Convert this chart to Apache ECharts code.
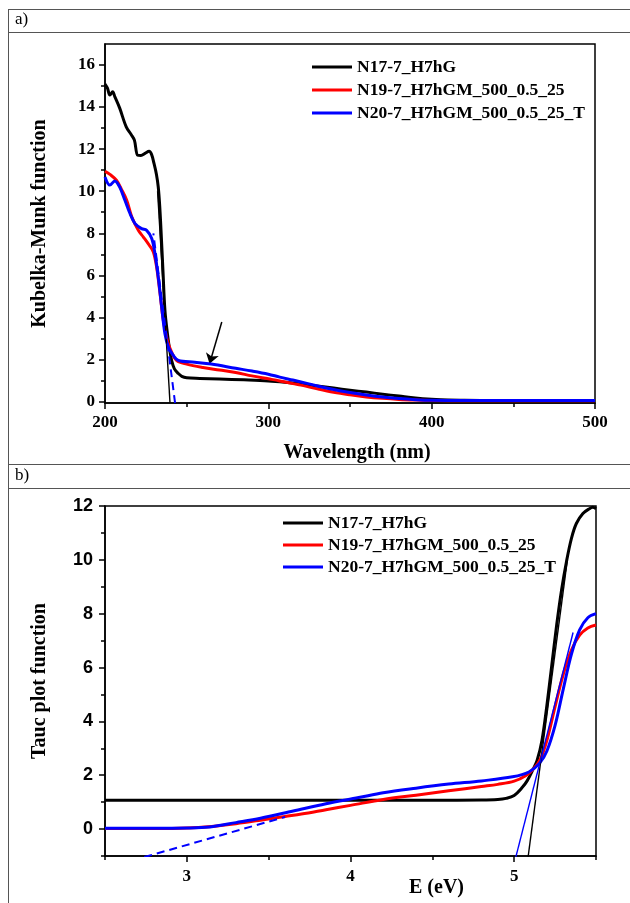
<!DOCTYPE html>
<html>
<head>
<meta charset="utf-8">
<script src="https://cdn.jsdelivr.net/npm/echarts@6/dist/echarts.min.js"></script>
<style>
html, body { margin: 0; padding: 0; background: #fff; }
#chart { width: 630px; height: 903px; }
</style>
</head>
<body>
<div id="chart"></div>
<script>
// ---- panel a) Kubelka-Munk vs wavelength ----
var seriesNames = ['N17-7_H7hG', 'N19-7_H7hGM_500_0.5_25', 'N20-7_H7hGM_500_0.5_25_T'];

var kmBlackNm = [200, 201.5, 203, 204.7, 206, 209, 213, 216, 218, 220, 222, 224.5, 227, 228.5, 230, 231.5, 232.6, 233.5, 234.3, 235.5, 236.7, 238.2, 239.5, 240.8, 242.5, 244.9, 247, 250, 258, 270, 285, 300, 310, 320, 330, 340, 350, 360, 370, 380, 390, 400, 410, 420, 440, 460, 480, 500];
var kmBlackVal = [15.1, 14.9, 14.57, 14.73, 14.5, 13.95, 13.06, 12.7, 12.43, 11.71, 11.7, 11.8, 11.9, 11.75, 11.32, 10.8, 10.2, 9.3, 8.14, 6.2, 4.33, 3.24, 2.5, 1.95, 1.55, 1.33, 1.2, 1.13, 1.1, 1.07, 1.03, 0.98, 0.92, 0.84, 0.74, 0.64, 0.54, 0.45, 0.35, 0.26, 0.17, 0.11, 0.07, 0.06, 0.05, 0.05, 0.05, 0.05];

var kmRedNm = [200, 203, 207, 210, 213.3, 216.3, 220.4, 223.5, 227.1, 229.6, 231.6, 233.7, 235.7, 238.2, 240.8, 243.9, 250, 260, 270, 280, 290, 300, 307, 315, 320, 330, 340, 350, 360, 370, 380, 390, 400, 420, 450, 500];
var kmRedVal = [10.95, 10.8, 10.52, 10.1, 9.57, 8.8, 8.14, 7.82, 7.43, 7.11, 6.4, 5.13, 3.86, 2.9, 2.35, 1.95, 1.78, 1.62, 1.5, 1.38, 1.22, 1.08, 0.98, 0.85, 0.78, 0.6, 0.44, 0.32, 0.22, 0.15, 0.1, 0.07, 0.05, 0.04, 0.04, 0.04];

var kmBlueNm = [200, 203, 206, 209, 212.2, 215.3, 218.4, 222.4, 225.5, 228.6, 230.6, 232.6, 234.7, 236.7, 238.8, 241.8, 245, 255, 265, 280, 290, 300, 307, 315, 320, 330, 340, 350, 360, 370, 380, 390, 400, 420, 450, 500];
var kmBlueVal = [10.68, 10.29, 10.49, 10.2, 9.57, 8.94, 8.46, 8.22, 8.14, 7.75, 7.03, 5.92, 4.49, 3.22, 2.59, 2.19, 1.95, 1.87, 1.78, 1.58, 1.45, 1.3, 1.16, 1.02, 0.93, 0.74, 0.57, 0.43, 0.31, 0.21, 0.14, 0.09, 0.06, 0.05, 0.05, 0.05];

var kmBlackFit = [[239.8, -0.07], [232.2, 10]];
var kmBlueFit = [[242.9, -0.07], [229.6, 8]];
var kmArrow = [[271.5, 3.78], [264, 1.8]];

var aXMajor = [200, 300, 400, 500];
var aXMinor = [250, 350, 450];
var aYMajor = [0, 2, 4, 6, 8, 10, 12, 14, 16];
var aYMinor = [1, 3, 5, 7, 9, 11, 13, 15];

// ---- panel b) Tauc plot vs E ----
var tBlackE = [2.5, 3.0, 3.5, 4.0, 4.5, 4.8, 4.9, 4.95, 5.0, 5.05, 5.08, 5.11, 5.14, 5.17, 5.2, 5.23, 5.26, 5.29, 5.32, 5.35, 5.38, 5.42, 5.46, 5.48, 5.5];
var tBlackVal = [1.07, 1.07, 1.07, 1.07, 1.07, 1.08, 1.1, 1.14, 1.25, 1.55, 1.8, 2.15, 2.55, 3.3, 4.6, 6.1, 7.6, 8.9, 9.95, 10.8, 11.35, 11.72, 11.9, 11.95, 11.9];

var tRedE = [2.5, 2.8, 3.0, 3.15, 3.3, 3.45, 3.6, 3.7, 3.85, 4.0, 4.2, 4.4, 4.6, 4.8, 4.9, 5.0, 5.07, 5.12, 5.16, 5.2, 5.25, 5.3, 5.35, 5.4, 5.45, 5.5];
var tRedVal = [0.02, 0.02, 0.04, 0.1, 0.2, 0.33, 0.47, 0.56, 0.72, 0.88, 1.1, 1.26, 1.42, 1.58, 1.66, 1.78, 1.98, 2.25, 2.6, 3.3, 4.55, 5.75, 6.65, 7.2, 7.47, 7.58];

var tBlueE = [2.5, 2.8, 3.0, 3.14, 3.3, 3.45, 3.65, 3.85, 4.05, 4.2, 4.4, 4.6, 4.8, 4.99, 5.09, 5.156, 5.2, 5.25, 5.3, 5.35, 5.4, 5.45, 5.5];
var tBlueVal = [0.03, 0.03, 0.04, 0.08, 0.24, 0.4, 0.67, 0.94, 1.17, 1.35, 1.52, 1.67, 1.79, 1.94, 2.12, 2.45, 2.9, 3.85, 5.2, 6.5, 7.4, 7.85, 8.0];

var tBlackFit = [[5.085, -1.04], [5.325, 10]];
var tBlueFit = [[5.01, -1.04], [5.36, 7.3]];
var tBlueLowFit = [[2.74, -1.04], [3.6, 0.45]];

var bXMajor = [3, 4, 5];
var bXMinor = [2.5, 3.5, 4.5, 5.5];
var bYMajor = [0, 2, 4, 6, 8, 10, 12];
var bYMinor = [-1, 1, 3, 5, 7, 9, 11];

var serif = '"Liberation Serif", "Times New Roman", serif';
var sans = '"Liberation Sans", Arial, sans-serif';
var colors = ['#000000', '#ff0000', '#0000ff'];

function pairs(xs, ys) {
    return xs.map(function (x, i) { return [x, ys[i]]; });
}

function majorAxis(grid, min, max, ticks, font, margin, name, nameGap, namePad) {
    return {
        type: 'value', gridIndex: grid, min: min, max: max,
        axisLine: {show: true, onZero: false, lineStyle: {color: '#000', width: 1.5}},
        axisTick: {show: true, customValues: ticks, length: 6, lineStyle: {color: '#000', width: 1.5}},
        axisLabel: {show: true, customValues: ticks, margin: margin, color: '#000',
            fontFamily: font.family, fontWeight: 'bold', fontSize: font.size},
        splitLine: {show: false},
        name: name, nameLocation: 'middle', nameGap: nameGap, nameMoveOverlap: false,
        nameTextStyle: {color: '#000', fontFamily: serif, fontWeight: 'bold', fontSize: 20, padding: namePad || 0}
    };
}

function minorAxis(grid, min, max, ticks, pos) {
    return {
        type: 'value', gridIndex: grid, min: min, max: max, position: pos,
        axisLine: {show: false, onZero: false},
        axisTick: {show: true, customValues: ticks, length: 4, lineStyle: {color: '#000', width: 1.5}},
        axisLabel: {show: false},
        splitLine: {show: false}
    };
}

function curve(name, color, xs, ys, xi, yi) {
    return {
        name: name, type: 'line', xAxisIndex: xi, yAxisIndex: yi,
        data: pairs(xs, ys), showSymbol: false, symbol: 'none',
        smooth: 0.35,
        lineStyle: {color: color, width: 3, join: 'round'}, itemStyle: {color: color}
    };
}

function fitLine(name, color, pts, xi, yi, dashed) {
    return {
        name: name, type: 'line', xAxisIndex: xi, yAxisIndex: yi,
        data: pts, showSymbol: false, symbol: 'none',
        lineStyle: {color: color, width: dashed ? 2 : 1.4, type: dashed ? [8, 5] : 'solid'}
    };
}

function hline(y) {
    return {type: 'line', shape: {x1: 8, y1: y, x2: 630, y2: y}, style: {stroke: '#555', lineWidth: 1}};
}

var chart = echarts.init(document.getElementById('chart'), null, {renderer: 'canvas'});

var option = {
    animation: false,
    backgroundColor: '#fff',
    grid: [
        {left: 105, top: 44, width: 490, height: 359, show: true, borderColor: '#000', borderWidth: 1.5, outerBoundsMode: 'none'},
        {left: 105, top: 506, width: 491, height: 350, show: true, borderColor: '#000', borderWidth: 1.5, outerBoundsMode: 'none'}
    ],
    xAxis: [
        majorAxis(0, 200, 500, aXMajor, {family: serif, size: 17}, 11, 'Wavelength (nm)', 40, [0, 0, 0, 14]),
        minorAxis(0, 200, 500, aXMinor, 'bottom'),
        majorAxis(1, 2.5, 5.5, bXMajor, {family: serif, size: 17}, 12, 'E (eV)', 22, [0, 0, 0, 172]),
        minorAxis(1, 2.5, 5.5, bXMinor, 'bottom')
    ],
    yAxis: [
        majorAxis(0, -0.07, 17, aYMajor, {family: serif, size: 17}, 10, 'Kubelka-Munk function', 55),
        minorAxis(0, -0.07, 17, aYMinor, 'left'),
        majorAxis(1, -1, 12, bYMajor, {family: sans, size: 18}, 12, 'Tauc plot function', 55),
        minorAxis(1, -1, 12, bYMinor, 'left')
    ],
    legend: [
        {
            data: seriesNames, orient: 'vertical', left: 307, top: 53, itemGap: 5,
            itemWidth: 40, itemHeight: 3, icon: 'rect', selectedMode: false,
            textStyle: {color: '#000', fontFamily: serif, fontWeight: 'bold', fontSize: 17.5, lineHeight: 18}
        },
        {
            data: seriesNames, orient: 'vertical', left: 278, top: 509, itemGap: 4,
            itemWidth: 40, itemHeight: 3, icon: 'rect', selectedMode: false,
            textStyle: {color: '#000', fontFamily: serif, fontWeight: 'bold', fontSize: 17.5, lineHeight: 18}
        }
    ],
    graphic: [
        hline(9.5), hline(32.5), hline(464.5), hline(488.5),
        {type: 'line', shape: {x1: 8.5, y1: 9, x2: 8.5, y2: 903}, style: {stroke: '#555', lineWidth: 1}},
        {type: 'text', left: 15, top: 11, style: {text: 'a)', font: '17px ' + serif, fill: '#000'}},
        {type: 'text', left: 15, top: 467, style: {text: 'b)', font: '17px ' + serif, fill: '#000'}}
    ],
    series: [
        curve(seriesNames[0], colors[0], kmBlackNm, kmBlackVal, 0, 0),
        curve(seriesNames[1], colors[1], kmRedNm, kmRedVal, 0, 0),
        curve(seriesNames[2], colors[2], kmBlueNm, kmBlueVal, 0, 0),
        fitLine('fit a black', colors[0], kmBlackFit, 0, 0, false),
        fitLine('fit a blue', colors[2], kmBlueFit, 0, 0, true),
        {
            name: 'arrow', type: 'lines', coordinateSystem: 'cartesian2d', xAxisIndex: 0, yAxisIndex: 0,
            symbol: ['none', 'arrow'], symbolSize: 10,
            lineStyle: {color: '#000', width: 1.5, opacity: 1},
            data: [{coords: kmArrow}]
        },
        curve(seriesNames[0], colors[0], tBlackE, tBlackVal, 2, 2),
        curve(seriesNames[1], colors[1], tRedE, tRedVal, 2, 2),
        curve(seriesNames[2], colors[2], tBlueE, tBlueVal, 2, 2),
        fitLine('fit b black', colors[0], tBlackFit, 2, 2, false),
        fitLine('fit b blue', colors[2], tBlueFit, 2, 2, false),
        fitLine('fit b blue low', colors[2], tBlueLowFit, 2, 2, true)
    ]
};

chart.setOption(option);
</script>
</body>
</html>
